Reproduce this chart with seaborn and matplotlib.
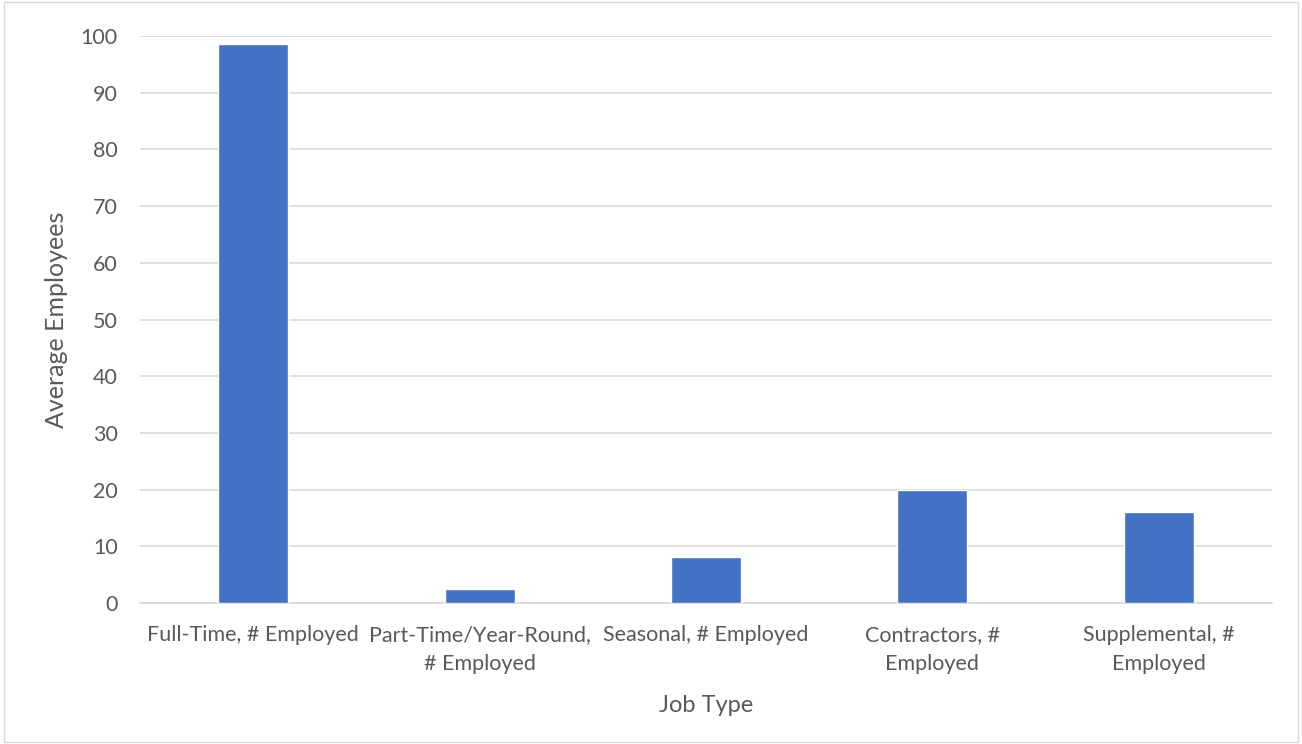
import matplotlib
matplotlib.use("Agg")
import matplotlib.pyplot as plt
import seaborn as sns
import pandas as pd

categories = ["Full-Time, # Employed", "Part-Time/Year-Round,\n# Employed",
              "Seasonal, # Employed", "Contractors, #\nEmployed", "Supplemental, #\nEmployed"]
values = [98.6, 2.5, 8.1, 20.0, 16.0]

sns.set_theme(style="white")
plt.rcParams['font.family'] = ['Lato', 'DejaVu Sans']

df = pd.DataFrame({"Job Type": categories, "Average Employees": values})

fig = plt.figure(figsize=(13.02, 7.44), dpi=100)
ax = fig.add_axes([140/1302, 1-603/744, 1132/1302, 567/744])
sns.barplot(data=df, x="Job Type", y="Average Employees", color="#4472C4",
            width=0.31, saturation=1, ax=ax, zorder=3)
ax.set_ylim(0, 100)
ax.set_yticks(range(0, 101, 10))
ax.grid(axis="y", color="#D9D9D9", linewidth=1.2, zorder=0)
for s in ["top", "right", "left"]:
    ax.spines[s].set_visible(False)
ax.spines["bottom"].set_color("#D9D9D9")
ax.spines["bottom"].set_linewidth(1.2)
ax.tick_params(axis="y", length=0, labelsize=15.5, colors="#595959", pad=16)
ax.tick_params(axis="x", length=0, labelsize=15.5, colors="#595959", pad=16)
for lbl in ax.get_xticklabels():
    lbl.set_linespacing(1.55)
ax.set_xlabel("Job Type", fontsize=17, color="#595959", labelpad=15)
ax.set_ylabel("Average Employees", fontsize=18, color="#595959", labelpad=9)
fig.patches.append(plt.Rectangle((0.003, 0.003), 0.994, 0.994, transform=fig.transFigure,
                                 fill=False, edgecolor="#D9D9D9", linewidth=1))
fig.savefig("out.png", dpi=100)
